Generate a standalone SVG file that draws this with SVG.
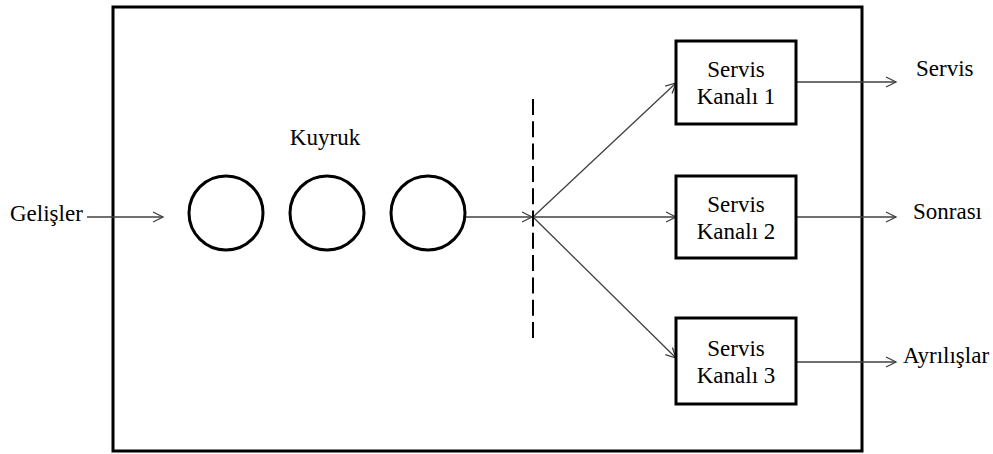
<svg xmlns="http://www.w3.org/2000/svg" width="993" height="454" viewBox="0 0 993 454">
<defs>
<marker id="arr" markerUnits="userSpaceOnUse" markerWidth="14" markerHeight="14" refX="11" refY="6" orient="auto" viewBox="0 0 14 12">
<path d="M1,1 L11,6 L1,11" fill="none" stroke="#404040" stroke-width="1.3"/>
</marker>
</defs>
<style>
.c{text-anchor:middle}
.box{fill:#fff;stroke:#000;stroke-width:3}
.q{fill:#fff;stroke:#000;stroke-width:3}
.ln{fill:none;stroke:#404040;stroke-width:1.3;marker-end:url(#arr)}
</style>
<rect x="113" y="7" width="749" height="444" fill="#fff" stroke="#000" stroke-width="3"/>
<g id="connectors">
<line class="ln" x1="87" y1="217" x2="163" y2="217"/>
<line class="ln" x1="466" y1="217" x2="532" y2="217"/>
<line class="ln" x1="533" y1="217" x2="676" y2="83"/>
<line class="ln" x1="533" y1="217" x2="676" y2="217"/>
<line class="ln" x1="533" y1="217" x2="676" y2="358"/>
<line class="ln" x1="796" y1="82" x2="896" y2="82"/>
<line class="ln" x1="796" y1="217" x2="896" y2="217"/>
<line class="ln" x1="796" y1="362" x2="896" y2="362"/>
</g>
<g id="divider">
<line x1="533" y1="99" x2="533" y2="338" stroke="#000" stroke-width="2" stroke-dasharray="16,6.3"/>
</g>
<g font-family="Liberation Serif, Times New Roman, DejaVu Serif, serif" font-size="23" fill="#000">
<g id="queue">
<text class="c" x="325" y="145">Kuyruk</text>
<circle class="q" cx="226" cy="213" r="37"/>
<circle class="q" cx="327" cy="213" r="37"/>
<circle class="q" cx="428" cy="213" r="37"/>
</g>
<g id="kanal1">
<rect class="box" x="676" y="41" width="120" height="83"/>
<text class="c" x="736" y="77">Servis</text>
<text class="c" x="736" y="104">Kanalı 1</text>
</g>
<g id="kanal2">
<rect class="box" x="676" y="176" width="120" height="82"/>
<text class="c" x="736" y="212">Servis</text>
<text class="c" x="736" y="239">Kanalı 2</text>
</g>
<g id="kanal3">
<rect class="box" x="676" y="318" width="120" height="86"/>
<text class="c" x="736" y="356">Servis</text>
<text class="c" x="736" y="383">Kanalı 3</text>
</g>
<g id="labels">
<text x="10" y="221">Gelişler</text>
<text x="916" y="76">Servis</text>
<text x="913" y="219">Sonrası</text>
<text x="903" y="363">Ayrılışlar</text>
</g>
</g>
</svg>
